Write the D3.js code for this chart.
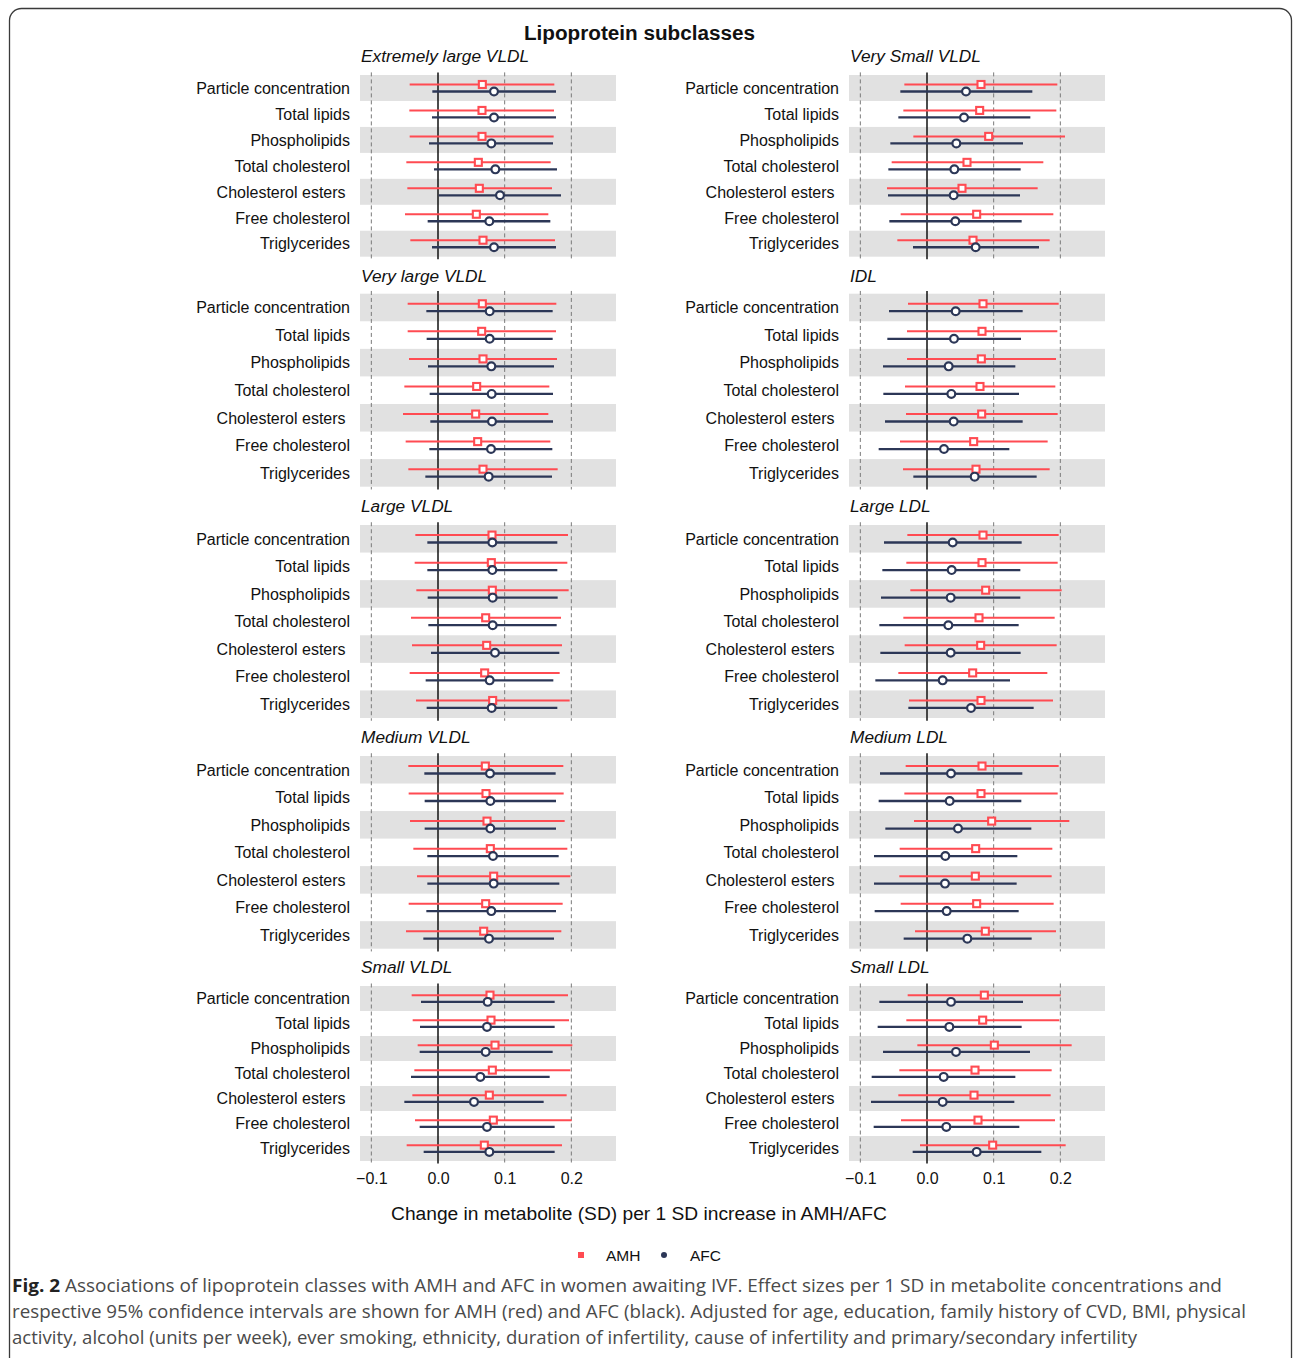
<!DOCTYPE html>
<html>
<head>
<meta charset="utf-8">
<script src="https://cdn.jsdelivr.net/npm/d3@7"></script>
<style>
  html, body { margin: 0; padding: 0; background: #fff; }
  svg text { font-family: "Liberation Sans", Arial, Helvetica, sans-serif; }
</style>
</head>
<body>
<script>
// Lipoprotein measures shown in every panel (top to bottom)
const measures = ["Particle concentration", "Total lipids", "Phospholipids",
  "Total cholesterol", "Cholesterol esters ", "Free cholesterol", "Triglycerides"];

// Subclass panels, left and right columns
const leftSubclasses = ["Extremely large VLDL", "Very large VLDL", "Large VLDL", "Medium VLDL", "Small VLDL"];
const rightSubclasses = ["Very Small VLDL", "IDL", "Large LDL", "Medium LDL", "Small LDL"];

// Effect sizes as [estimate, lower 95% CI, upper 95% CI], one per measure
const xlVldlAMH = [[0.0665,-0.0425,0.1745],[0.066,-0.043,0.174],[0.066,-0.0425,0.1735],[0.0605,-0.0475,0.169],[0.062,-0.046,0.171],[0.0575,-0.0495,0.1655],[0.0675,-0.0415,0.1755]];
const xlVldlAFC = [[0.084,-0.0085,0.177],[0.084,-0.009,0.177],[0.080,-0.0135,0.1725],[0.086,-0.006,0.1785],[0.093,0.001,0.1845],[0.077,-0.0155,0.1685],[0.084,-0.009,0.177]];

const vlVldlAMH = [[0.0665,-0.0455,0.1775],[0.0655,-0.0455,0.177],[0.0675,-0.0435,0.1785],[0.058,-0.0505,0.167],[0.0565,-0.0525,0.1655],[0.0595,-0.0485,0.1685],[0.0675,-0.0445,0.1795]];
const vlVldlAFC = [[0.0775,-0.0175,0.172],[0.0775,-0.017,0.172],[0.080,-0.015,0.174],[0.0805,-0.0125,0.1725],[0.081,-0.0115,0.1725],[0.0795,-0.013,0.1715],[0.076,-0.019,0.171]];

const lVldlAMH = [[0.081,-0.034,0.195],[0.080,-0.035,0.194],[0.0815,-0.0325,0.196],[0.0715,-0.0405,0.1845],[0.073,-0.039,0.186],[0.070,-0.0425,0.1825],[0.082,-0.033,0.1975]];
const lVldlAFC = [[0.0815,-0.016,0.179],[0.0815,-0.016,0.179],[0.082,-0.0155,0.1795],[0.082,-0.0145,0.178],[0.0855,-0.0105,0.182],[0.0775,-0.0185,0.173],[0.0805,-0.017,0.179]];

const mVldlAMH = [[0.071,-0.0445,0.188],[0.072,-0.044,0.1885],[0.0735,-0.042,0.190],[0.0785,-0.037,0.194],[0.0835,-0.0315,0.1985],[0.0715,-0.044,0.187],[0.0685,-0.048,0.185]];
const mVldlAFC = [[0.078,-0.0205,0.1765],[0.0785,-0.020,0.177],[0.0785,-0.020,0.177],[0.0825,-0.016,0.181],[0.0835,-0.016,0.182],[0.080,-0.0175,0.177],[0.0765,-0.022,0.174]];

const sVldlAMH = [[0.078,-0.0395,0.195],[0.0795,-0.038,0.1965],[0.0855,-0.0305,0.2015],[0.0815,-0.0355,0.1985],[0.077,-0.0385,0.193],[0.083,-0.0345,0.2005],[0.0695,-0.047,0.186]];
const sVldlAFC = [[0.0745,-0.0255,0.175],[0.0735,-0.027,0.175],[0.0715,-0.0275,0.172],[0.0635,-0.0405,0.1675],[0.054,-0.0505,0.1585],[0.0735,-0.0275,0.175],[0.077,-0.0215,0.175]];

const vsVldlAMH = [[0.081,-0.034,0.1955],[0.079,-0.0355,0.194],[0.0925,-0.0205,0.207],[0.060,-0.053,0.1745],[0.0525,-0.060,0.166],[0.0745,-0.0395,0.1895],[0.069,-0.0445,0.184]];
const vsVldlAFC = [[0.0585,-0.040,0.158],[0.0555,-0.043,0.155],[0.044,-0.055,0.144],[0.041,-0.058,0.1405],[0.040,-0.0585,0.1395],[0.0425,-0.0565,0.142],[0.073,-0.021,0.168]];

const idlAMH = [[0.084,-0.0285,0.1975],[0.0825,-0.030,0.1955],[0.0815,-0.030,0.1935],[0.0795,-0.033,0.1925],[0.082,-0.0315,0.196],[0.070,-0.0405,0.181],[0.0735,-0.036,0.184]];
const idlAFC = [[0.043,-0.057,0.1435],[0.0405,-0.0595,0.141],[0.0325,-0.066,0.1325],[0.0365,-0.0655,0.138],[0.040,-0.063,0.1435],[0.0255,-0.0725,0.1235],[0.0715,-0.0205,0.1645]];

const lLdlAMH = [[0.084,-0.0295,0.1975],[0.0825,-0.031,0.196],[0.088,-0.025,0.202],[0.078,-0.0355,0.1915],[0.0805,-0.0335,0.1945],[0.0685,-0.043,0.1805],[0.081,-0.027,0.189]];
const lLdlAFC = [[0.0385,-0.0645,0.142],[0.037,-0.067,0.140],[0.0355,-0.069,0.140],[0.032,-0.0715,0.1375],[0.0355,-0.070,0.1405],[0.0235,-0.0775,0.1245],[0.066,-0.028,0.160]];

const mLdlAMH = [[0.0825,-0.032,0.1975],[0.081,-0.034,0.196],[0.097,-0.0195,0.2135],[0.073,-0.041,0.188],[0.0725,-0.0415,0.187],[0.0745,-0.0395,0.190],[0.0875,-0.018,0.1935]];
const mLdlAFC = [[0.036,-0.0705,0.143],[0.034,-0.0725,0.1415],[0.0465,-0.0625,0.1565],[0.0275,-0.0795,0.1355],[0.027,-0.0795,0.1345],[0.0295,-0.0785,0.1375],[0.0605,-0.035,0.157]];

const sLdlAMH = [[0.086,-0.029,0.2005],[0.0835,-0.031,0.1985],[0.101,-0.0145,0.217],[0.072,-0.0415,0.187],[0.0705,-0.043,0.1855],[0.0765,-0.039,0.192],[0.0985,-0.0105,0.208]];
const sLdlAFC = [[0.036,-0.0715,0.144],[0.0335,-0.074,0.142],[0.0435,-0.066,0.1545],[0.025,-0.083,0.1325],[0.0235,-0.084,0.131],[0.029,-0.080,0.1385],[0.0745,-0.0215,0.1715]];

// Axis ticks and labels
const tickValues = [-0.1, 0.0, 0.1, 0.2];
const seriesNames = ["AMH", "AFC"];
const chartTitle = "Lipoprotein subclasses";
const xAxisTitle = "Change in metabolite (SD) per 1 SD increase in AMH/AFC";
const captionLines = [
  "Associations of lipoprotein classes with AMH and AFC in women awaiting IVF. Effect sizes per 1 SD in metabolite concentrations and",
  "respective 95% confidence intervals are shown for AMH (red) and AFC (black). Adjusted for age, education, family history of CVD, BMI, physical",
  "activity, alcohol (units per week), ever smoking, ethnicity, duration of infertility, cause of infertility and primary/secondary infertility"
];

const leftData = [[xlVldlAMH, xlVldlAFC], [vlVldlAMH, vlVldlAFC], [lVldlAMH, lVldlAFC], [mVldlAMH, mVldlAFC], [sVldlAMH, sVldlAFC]];
const rightData = [[vsVldlAMH, vsVldlAFC], [idlAMH, idlAFC], [lLdlAMH, lLdlAFC], [mLdlAMH, mLdlAFC], [sLdlAMH, sLdlAFC]];

// ---- layout ----
const W = 1293, H = 1358;
const RED = "#ff4b52", NAVY = "#2c3757", BAND = "#e1e1e1";
const rowsLayout = [
  { top: 75, bottom: 256.7, titleY: 56 },
  { top: 293.7, bottom: 486.7, titleY: 276 },
  { top: 525, bottom: 718, titleY: 506 },
  { top: 756, bottom: 948.7, titleY: 737 },
  { top: 986, bottom: 1161, titleY: 967 }
];
const colsLayout = [
  { x0: 360, x1: 616, labelX: 350, titleX: 361, names: leftSubclasses, data: leftData },
  { x0: 849, x1: 1105, labelX: 839, titleX: 850, names: rightSubclasses, data: rightData }
];
const xDomain = [-0.117, 0.267];

const svg = d3.select("body").append("svg")
  .attr("width", W).attr("height", H);

// outer rounded frame
svg.append("rect")
  .attr("x", 9.5).attr("y", 8.5).attr("width", 1282).attr("height", 1362)
  .attr("rx", 12).attr("fill", "none").attr("stroke", "#3a3a3a").attr("stroke-width", 1.3);

svg.append("text")
  .attr("x", 639.5).attr("y", 40)
  .attr("text-anchor", "middle")
  .style("font-size", "20.7px").style("font-weight", "bold").attr("fill", "#111")
  .text(chartTitle);

colsLayout.forEach(col => {
  const x = d3.scaleLinear().domain(xDomain).range([col.x0, col.x1]);
  rowsLayout.forEach((row, ri) => {
    const [amh, afc] = col.data[ri];
    const y = d3.scaleBand().domain(measures).range([row.top, row.bottom]).padding(0);
    const bw = y.bandwidth();
    const g = svg.append("g");

    // panel title
    g.append("text")
      .attr("x", col.titleX).attr("y", row.titleY).attr("dy", "0.36em")
      .style("font-size", "17.3px").style("font-style", "italic").attr("fill", "#111")
      .text(col.names[ri]);

    // alternating shaded rows
    g.selectAll("rect.band").data(measures.filter((d, i) => i % 2 === 0))
      .join("rect").attr("class", "band")
      .attr("x", col.x0).attr("width", col.x1 - col.x0)
      .attr("y", d => y(d)).attr("height", bw)
      .attr("fill", BAND);

    const gTop = row.top - 0.1 * bw, gBot = row.bottom + 0.1 * bw;
    // reference lines
    g.selectAll("line.ref").data(tickValues.filter(v => v !== 0))
      .join("line").attr("class", "ref")
      .attr("x1", d => x(d)).attr("x2", d => x(d))
      .attr("y1", gTop).attr("y2", gBot)
      .attr("stroke", "#7a7a7a").attr("stroke-width", 1).attr("stroke-dasharray", "4,3");
    g.append("line")
      .attr("x1", x(0)).attr("x2", x(0)).attr("y1", gTop).attr("y2", gBot)
      .attr("stroke", "#111").attr("stroke-width", 1.5);

    // row labels
    g.selectAll("text.lab").data(measures).join("text").attr("class", "lab")
      .attr("x", col.labelX).attr("y", d => y(d) + bw / 2).attr("dy", "0.36em")
      .attr("text-anchor", "end").style("white-space", "pre")
      .style("font-size", "16px").attr("fill", "#111")
      .text(d => d);

    const off = 0.135 * bw;
    // AMH intervals
    g.selectAll("line.amh").data(amh).join("line").attr("class", "amh")
      .attr("x1", d => x(d[1])).attr("x2", d => x(d[2]))
      .attr("y1", (d, i) => y(measures[i]) + bw / 2 - off)
      .attr("y2", (d, i) => y(measures[i]) + bw / 2 - off)
      .attr("stroke", RED).attr("stroke-width", 2);
    // AFC intervals
    g.selectAll("line.afc").data(afc).join("line").attr("class", "afc")
      .attr("x1", d => x(d[1])).attr("x2", d => x(d[2]))
      .attr("y1", (d, i) => y(measures[i]) + bw / 2 + off)
      .attr("y2", (d, i) => y(measures[i]) + bw / 2 + off)
      .attr("stroke", NAVY).attr("stroke-width", 2.3);
    // point estimates
    const sq = 7;
    g.selectAll("rect.amhpt").data(amh).join("rect").attr("class", "amhpt")
      .attr("x", d => x(d[0]) - sq / 2)
      .attr("y", (d, i) => y(measures[i]) + bw / 2 - off - sq / 2)
      .attr("width", sq).attr("height", sq)
      .attr("fill", "#fff").attr("stroke", RED).attr("stroke-width", 2.1);
    g.selectAll("circle.afcpt").data(afc).join("circle").attr("class", "afcpt")
      .attr("cx", d => x(d[0]))
      .attr("cy", (d, i) => y(measures[i]) + bw / 2 + off)
      .attr("r", 3.9)
      .attr("fill", "#fff").attr("stroke", NAVY).attr("stroke-width", 2.2);
  });

  // bottom axis
  const axisY = rowsLayout[4].bottom + 2.5;
  const axis = d3.axisBottom(x).tickValues(tickValues)
    .tickFormat(d3.format(".1f")).tickSize(0).tickPadding(9.5);
  const ag = svg.append("g").attr("transform", `translate(0,${axisY})`).call(axis);
  ag.select(".domain").remove();
  ag.selectAll("text").style("font-size", "16px").attr("fill", "#111")
    .style("font-family", "'Liberation Sans', Arial, sans-serif");
});

// x axis title
svg.append("text")
  .attr("x", 639).attr("y", 1213).attr("dy", "0.36em")
  .attr("text-anchor", "middle").style("font-size", "19.2px").attr("fill", "#111")
  .text(xAxisTitle);

// legend
const legend = svg.append("g");
legend.append("rect").attr("x", 578).attr("y", 1252).attr("width", 6).attr("height", 6).attr("fill", RED);
legend.append("text").attr("x", 606).attr("y", 1255).attr("dy", "0.36em")
  .style("font-size", "15.5px").attr("fill", "#111").text(seriesNames[0]);
legend.append("circle").attr("cx", 664).attr("cy", 1255).attr("r", 3).attr("fill", NAVY);
legend.append("text").attr("x", 690).attr("y", 1255).attr("dy", "0.36em")
  .style("font-size", "15.5px").attr("fill", "#111").text(seriesNames[1]);

// figure caption
const capEnds = [1222, 1246, 1137];
captionLines.forEach((line, i) => {
  const t = svg.append("text")
    .attr("x", 12).attr("y", 1292 + i * 26)
    .style("font-family", "'Open Sans', 'Noto Sans', sans-serif")
    .style("font-size", "18.5px").attr("fill", "#4a4a4a")
    .attr("textLength", capEnds[i] - 12).attr("lengthAdjust", "spacingAndGlyphs");
  if (i === 0) {
    t.append("tspan").style("font-weight", "bold").attr("fill", "#222").text("Fig. 2 ");
  }
  t.append("tspan").text(line);
});
</script>
</body>
</html>
